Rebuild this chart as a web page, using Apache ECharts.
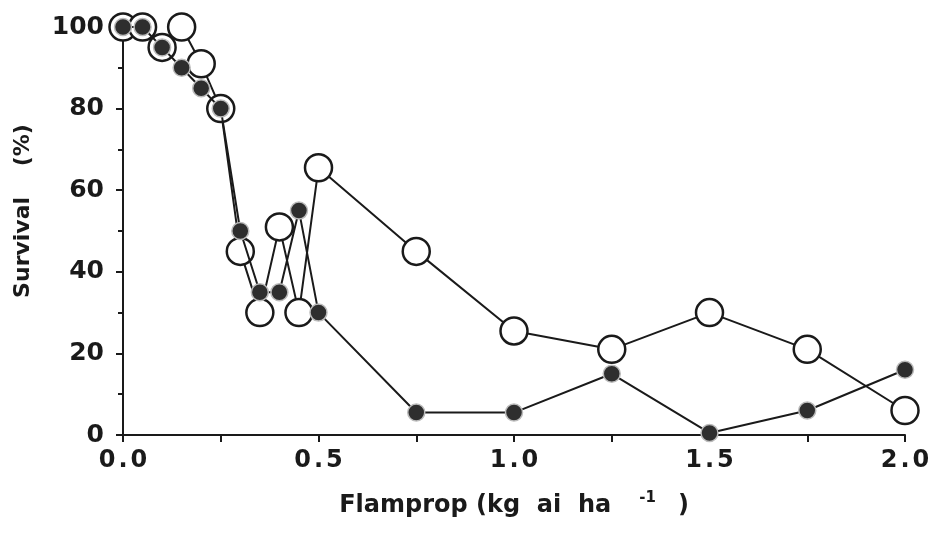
<!DOCTYPE html>
<html>
<head>
<meta charset="utf-8">
<script src="https://cdn.jsdelivr.net/npm/echarts@6/dist/echarts.min.js"></script>
<style>
html, body { margin: 0; padding: 0; background: #fff; }
#chart { width: 934px; height: 537px; }
</style>
</head>
<body>
<div id="chart"></div>
<script>
var chart = echarts.init(document.getElementById('chart'));

// dose, kg ai/ha
var doses = [0, 0.05, 0.1, 0.15, 0.2, 0.25, 0.3, 0.35, 0.4, 0.45, 0.5, 0.75, 1.0, 1.25, 1.5, 1.75, 2.0];
// survival (%), filled symbols
var filledSurvival = [100, 100, 95, 90, 85, 80, 50, 35, 35, 55, 30, 5.5, 5.5, 15, 0.5, 6, 16];
// survival (%), open symbols
var openSurvival = [100, 100, 95, 100, 91, 80, 45, 30, 51, 30, 65.5, 45, 25.5, 21, 30, 21, 6];

var font = '"DejaVu Sans", Verdana, sans-serif';
var ink = '#1a1a1a';

function pairs(ys) {
    return doses.map(function (d, i) { return [d, ys[i]]; });
}

var option = {
    animation: false,
    backgroundColor: '#fff',
    grid: { left: 123, right: 29, top: 27, bottom: 102 },
    xAxis: {
        type: 'value',
        min: 0,
        max: 2,
        interval: 0.5,
        name: '{t|Flamprop (kg  ai  ha}{s|-1}{t|)}',
        nameLocation: 'middle',
        nameGap: 56,
        nameTextStyle: {
            rich: {
                t: { fontFamily: font, fontWeight: 'bold', fontSize: 24, color: ink },
                s: { fontFamily: font, fontWeight: 'bold', fontSize: 15, color: ink, verticalAlign: 'top', padding: [0, 22, 14, 28] }
            }
        },
        axisLine: { lineStyle: { color: ink, width: 2 } },
        axisTick: { length: 7, lineStyle: { color: ink, width: 2 } },
        minorTick: { show: true, splitNumber: 2, length: 7, lineStyle: { color: ink, width: 2 } },
        splitLine: { show: false },
        axisLabel: {
            margin: 14,
            color: ink,
            formatter: function (v) {
                var s = v.toFixed(1).split('.');
                return '{d|' + s[0] + '}{p|.}{d|' + s[1] + '}';
            },
            rich: {
                d: { fontFamily: font, fontWeight: 'bold', fontSize: 24, color: ink },
                p: { fontFamily: font, fontWeight: 'bold', fontSize: 24, color: ink, padding: [0, 3, 0, 3] }
            }
        }
    },
    yAxis: {
        type: 'value',
        min: 0,
        max: 100,
        interval: 20,
        name: 'Survival    (%)',
        nameLocation: 'middle',
        nameGap: 89,
        nameTextStyle: { fontFamily: font, fontWeight: 'bold', fontSize: 22, color: ink, padding: [0, 0, 0, 40] },
        axisLine: { show: true, lineStyle: { color: ink, width: 2 } },
        axisTick: { show: true, length: 7, lineStyle: { color: ink, width: 2 } },
        minorTick: { show: true, splitNumber: 2, length: 5, lineStyle: { color: ink, width: 2 } },
        splitLine: { show: false },
        axisLabel: {
            margin: 19,
            fontFamily: font,
            fontWeight: 'bold',
            fontSize: 25,
            color: ink
        }
    },
    series: [
        {
            name: 'open',
            type: 'line',
            data: pairs(openSurvival),
            symbol: 'circle',
            symbolSize: 27,
            showAllSymbol: true,
            lineStyle: { color: ink, width: 2 },
            itemStyle: { color: '#fff', borderColor: ink, borderWidth: 2.5 },
            z: 2
        },
        {
            name: 'filled',
            type: 'line',
            data: pairs(filledSurvival),
            symbol: 'circle',
            symbolSize: 17,
            showAllSymbol: true,
            lineStyle: { color: ink, width: 2 },
            itemStyle: { color: '#2e2e2e', borderColor: '#bbb', borderWidth: 1.5 },
            z: 3
        }
    ]
};

chart.setOption(option);
</script>
</body>
</html>
